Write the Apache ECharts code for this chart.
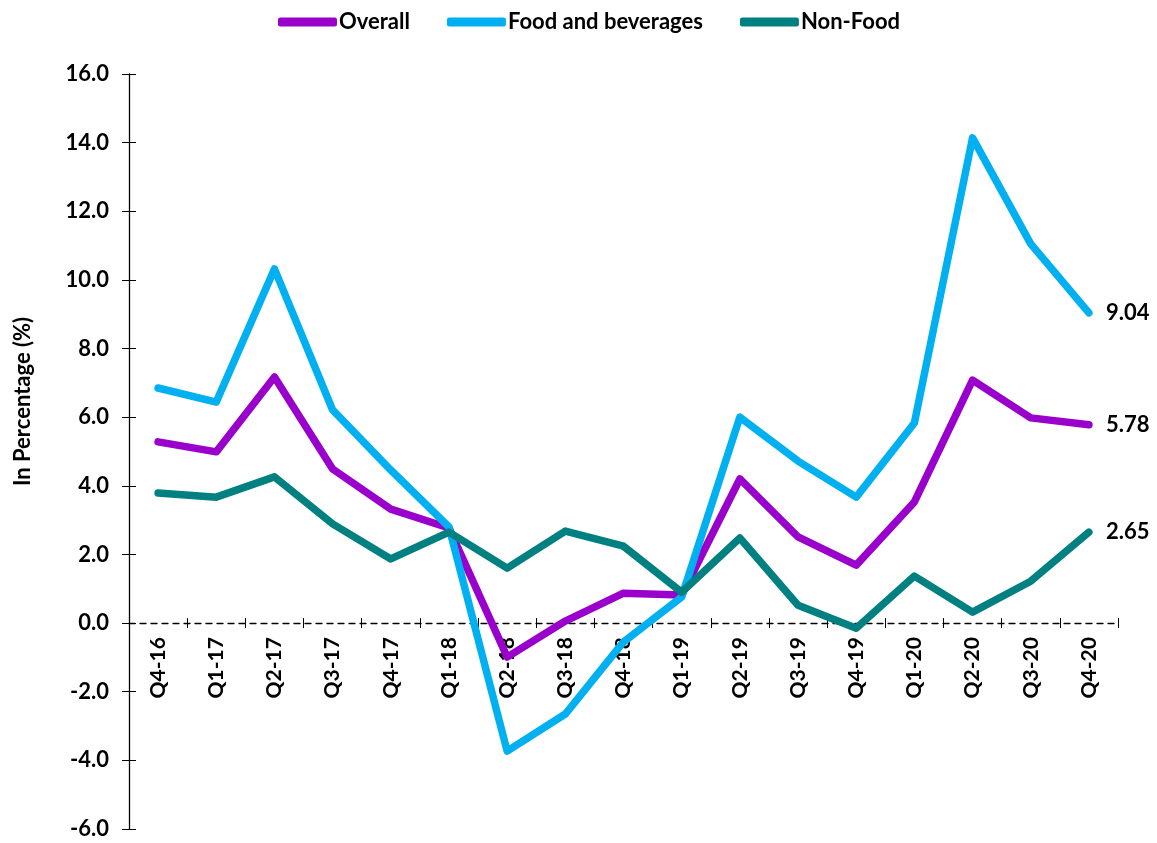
<!DOCTYPE html>
<html>
<head>
<meta charset="utf-8">
<script src="https://cdn.jsdelivr.net/npm/echarts@6/dist/echarts.min.js"></script>
<style>
  html, body { margin: 0; padding: 0; background: #fff; }
  #chart { width: 1157px; height: 843px; }
</style>
</head>
<body>
<div id="chart"></div>
<script>
// Quarterly inflation, year-on-year, in percent
const quarters = ['Q4-16','Q1-17','Q2-17','Q3-17','Q4-17','Q1-18','Q2-18','Q3-18','Q4-18',
                  'Q1-19','Q2-19','Q3-19','Q4-19','Q1-20','Q2-20','Q3-20','Q4-20'];
const overall = [5.28, 4.99, 7.17, 4.49, 3.32, 2.77, -0.99, 0.06, 0.87,
                 0.82, 4.20, 2.51, 1.69, 3.53, 7.08, 5.98, 5.78];
const foodBeverages = [6.85, 6.44, 10.32, 6.21, 4.46, 2.80, -3.73, -2.65, -0.55,
                       0.76, 6.00, 4.72, 3.67, 5.83, 14.14, 11.05, 9.04];
const nonFood = [3.79, 3.67, 4.26, 2.89, 1.87, 2.65, 1.60, 2.68, 2.24,
                 0.90, 2.48, 0.52, -0.15, 1.37, 0.32, 1.22, 2.65];
const yMin = -6, yMax = 16, yStep = 2;

const FONT = 'Lato';
const GRID = { left: 129, right: 39, top: 74, bottom: 14 };
const chartHeight = 843;
// the category axis sits on the zero line: shift it up from the grid bottom
const plotHeight = chartHeight - GRID.top - GRID.bottom;
const zeroShift = -plotHeight * (0 - yMin) / (yMax - yMin);

const chart = echarts.init(document.getElementById('chart'));

function lineSeries(name, data, color) {
  return {
    name: name,
    type: 'line',
    data: data,
    symbol: 'none',
    color: color,
    lineStyle: { width: 7.5, color: color, cap: 'round', join: 'round' },
    endLabel: {
      show: true,
      distance: 17,
      color: '#000',
      fontFamily: FONT,
      fontWeight: 'bold',
      fontSize: 22,
      formatter: p => Number(p.value).toFixed(2)
    },
    z: 3
  };
}

chart.setOption({
  animation: false,
  textStyle: { fontFamily: FONT },
  legend: {
    top: 6,
    left: 273,
    itemWidth: 59,
    itemHeight: 9,
    itemGap: 37,
    icon: 'roundRect',
    textStyle: { fontFamily: FONT, fontWeight: 'bold', fontSize: 22, color: '#000', padding: [0, 0, 0, -3] },
    data: ['Overall', 'Food and beverages', 'Non-Food']
  },
  grid: Object.assign({ containLabel: false, outerBoundsMode: 'none' }, GRID),
  xAxis: [
    {
      type: 'category',
      data: quarters,
      boundaryGap: true,
      offset: zeroShift,
      axisLine: { onZero: false, lineStyle: { color: '#000', width: 1.3, type: [6, 5] } },
      axisTick: { show: true, length: 5, lineStyle: { color: '#000' } },
      axisLabel: {
        rotate: 90,
        margin: 14,
        color: '#000',
        fontFamily: FONT,
        fontWeight: 'bold',
        fontSize: 21
      },
      splitLine: { show: false }
    },
    {
      type: 'category',
      data: quarters,
      boundaryGap: true,
      position: 'bottom',
      offset: zeroShift,
      axisLine: { show: false, onZero: false },
      axisTick: { show: true, inside: true, length: 5, lineStyle: { color: '#000' } },
      axisLabel: { show: false },
      splitLine: { show: false }
    }
  ],
  yAxis: [
    {
      type: 'value',
      min: yMin,
      max: yMax,
      interval: yStep,
      name: 'In Percentage (%)',
      nameLocation: 'middle',
      nameRotate: 90,
      nameGap: 95,
      nameTextStyle: { fontFamily: FONT, fontWeight: 'bold', fontSize: 22, color: '#000', padding: [0, 0, 0, 100] },
      axisLine: { show: true, lineStyle: { color: '#000', width: 1.3 } },
      axisTick: { show: true, length: 7, lineStyle: { color: '#000' } },
      axisLabel: {
        margin: 20,
        color: '#000',
        fontFamily: FONT,
        fontWeight: 'bold',
        fontSize: 22,
        formatter: v => v.toFixed(1)
      },
      splitLine: { show: false }
    },
    {
      type: 'value',
      min: yMin,
      max: yMax,
      interval: yStep,
      position: 'left',
      axisLine: { show: false },
      axisTick: { show: true, inside: true, length: 7, lineStyle: { color: '#000' } },
      axisLabel: { show: false },
      splitLine: { show: false }
    }
  ],
  series: [
    lineSeries('Overall', overall, '#9900CC'),
    lineSeries('Food and beverages', foodBeverages, '#00B0F0'),
    lineSeries('Non-Food', nonFood, '#008080')
  ]
});
</script>
</body>
</html>
